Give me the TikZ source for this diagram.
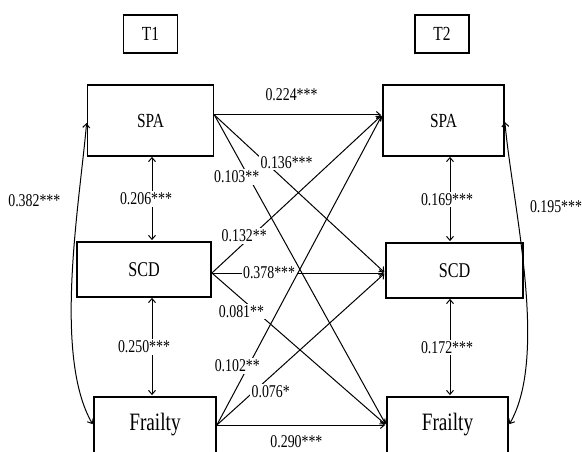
\documentclass[tikz,border=0pt]{standalone}
\usepackage{fontspec}
\setmainfont[FakeStretch=0.77]{Liberation Serif}
\usetikzlibrary{positioning, arrows.meta}

\begin{document}
\begin{tikzpicture}[x=1pt, y=1pt, shorten >=1pt, on grid, >={Straight Barb[length=4pt, width=7pt]},
    var/.style={draw, line width=1.8pt, font=\fontsize{20}{22}\selectfont},
    tbox/.style={draw, line width=1.5pt, minimum width=54pt, minimum height=38pt, font=\fontsize{20}{22}\selectfont},
    lbl/.style={fill=white, inner sep=1.5pt, font=\fontsize{18}{20}\selectfont}]
            \useasboundingbox (0,0) rectangle (582,451);
            \clip (0,0) rectangle (582,451);
            \node[tbox] (t_1) at (150.5,417) {T1};
            \node[tbox] (t_2) [right=291.5pt of t_1] {T2};
            \node[var, minimum width=126pt, minimum height=71pt] (spa_1) [below=86.5pt of t_1] {SPA};
            \node[var, minimum width=134pt, minimum height=55pt, font=\fontsize{21}{23}\selectfont] (scd_1) [below=149pt of spa_1, xshift=-6.5pt] {SCD};
            \node[var, minimum width=122pt, minimum height=56pt, font=\fontsize{25}{27}\selectfont] (frail_1) [below=155.5pt of scd_1, xshift=11pt] {Frailty};
            \node[var, minimum width=121pt, minimum height=71pt] (spa_2) [below=86.5pt of t_2, xshift=1.5pt] {SPA};
            \node[var, minimum width=137pt, minimum height=55pt, font=\fontsize{21}{23}\selectfont] (scd_2) [below=150pt of spa_2, xshift=11pt] {SCD};
            \node[var, minimum width=121pt, minimum height=56pt, font=\fontsize{25}{27}\selectfont] (frail_2) [below=154.5pt of scd_2, xshift=-7pt] {Frailty};
            % end points of the cross-lagged paths
            \coordinate (spa_1o) at ([yshift=5.5pt]spa_1.east);
            \coordinate (scd_1o) at ([yshift=-3.5pt]scd_1.east);
            \coordinate (frail_1o) at (frail_1.east);
            \coordinate (spa_2i) at ([yshift=5.5pt]spa_2.west);
            \coordinate (scd_2i) at ([yshift=-2.5pt]scd_2.west);
            \coordinate (frail_2i) at (frail_2.west);
            \coordinate (lx) at (152,0);
            \coordinate (rx) at (450,0);
                \path[->, line width=1pt]
                (spa_1o) edge node[lbl, pos=.46, yshift=20pt] {0.224***} (spa_2i)
                    edge node[lbl, pos=.30, xshift=21pt] {0.136***} (scd_2i)
                    edge node[lbl, pos=.20, xshift=-12pt] {0.103**} (frail_2i)
                (scd_1o) edge node[lbl, pos=.19, yshift=7pt] {0.132**} (spa_2i)
                    edge node[lbl, pos=.33] {0.378***} (scd_2i)
                    edge node[lbl, pos=.17, yshift=-13pt] {0.081**} (frail_2i)
                (frail_1o) edge node[lbl, pos=.19, xshift=-11pt] {0.102**} (spa_2i)
                    edge node[lbl, pos=.32, yshift=-15pt] {0.076*} (scd_2i)
                    edge node[lbl, pos=.47, yshift=-16.5pt] {0.290***} (frail_2i);
                \path[<->, line width=1pt]
                (lx |- spa_1.south) edge node[lbl, xshift=-6pt] {0.206***} (lx |- scd_1.north)
                (lx |- scd_1.south) edge node[lbl, xshift=-8pt] {0.250***} (lx |- frail_1.north)
                (rx |- spa_2.south) edge node[lbl, xshift=-3pt] {0.169***} (rx |- scd_2.north)
                (rx |- scd_2.south) edge node[lbl, xshift=-3pt] {0.172***} (rx |- frail_2.north);
                \draw[<->, line width=1pt] ([yshift=-2.5pt]spa_1.west) to[out=265, in=120, looseness=0.68]
                    node[lbl, pos=.27, xshift=-44pt] {0.382***} (frail_1.west);
                \draw[<->, line width=1pt] ([yshift=-1.5pt]spa_2.east) to[out=275, in=60, looseness=0.68]
                    node[lbl, pos=.29, xshift=40pt] {0.195***} (frail_2.east);
        \end{tikzpicture}
\end{document}
